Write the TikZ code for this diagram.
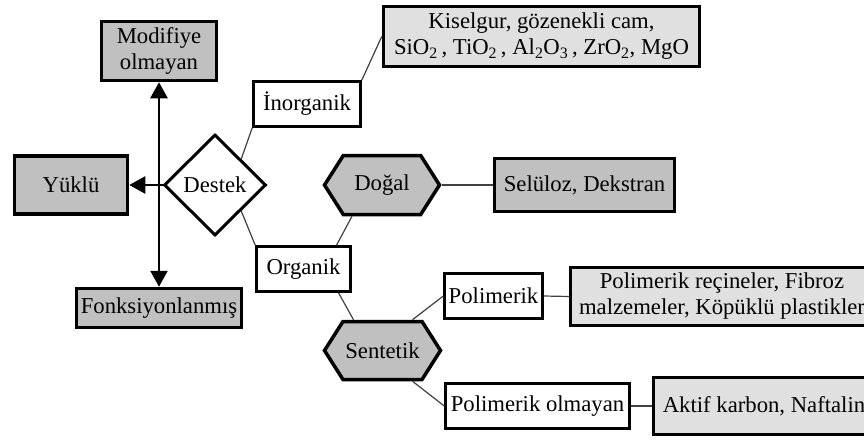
\documentclass[tikz,border=0pt]{standalone}
\usepackage{fontspec}
\setmainfont{Liberation Serif}
\usetikzlibrary{shapes.geometric,shapes.symbols,arrows.meta}
\definecolor{dgray}{HTML}{C0C0C0}
\definecolor{lgray}{HTML}{E0E0E0}
\definecolor{conn}{HTML}{404040}
\begin{document}
\begin{tikzpicture}[x=1pt,y=-1pt,
  every node/.style={font=\fontsize{22.7}{26}\selectfont, inner sep=0pt, align=center, text=black},
  gbox/.style={draw=black, line width=3.5pt, fill=dgray, rectangle},
  lbox/.style={draw=black, line width=3.5pt, fill=lgray, rectangle},
  wbox/.style={draw=black, line width=2.5pt, fill=white, rectangle},
  hexa/.style={draw=black, line width=3.5pt, fill=dgray, shape=signal, signal to=east and west, signal pointer angle=115},
  dia/.style={draw=black, line width=3pt, fill=white, shape=diamond, aspect=1},
  thinl/.style={draw=conn, line width=1.2pt},
  arr/.style={draw=black, line width=2.6pt, -{Triangle[length=16pt,width=17pt]}}
]
\path[use as bounding box] (0,0) rectangle (864,439);
\node[gbox, minimum width=115pt, minimum height=59pt] (mod) at (159,51) {Modifiye\\olmayan};
\node[gbox, minimum width=113pt, minimum height=58pt] (yuk) at (71,185) {Yüklü};
\node[gbox, minimum width=165pt, minimum height=39pt] (fon) at (159,308) {Fonksiyonlanmış};
\node[dia, minimum width=102pt, minimum height=101pt] (des) at (215,185) {Destek};
\node[wbox, minimum width=107pt, minimum height=45pt] (ino) at (307,104) {İnorganik};
\node[lbox, minimum width=316pt, minimum height=60pt] (kis) at (541.5,36.5) {Kiselgur, gözenekli cam,\\SiO\textsubscript{2}\,, TiO\textsubscript{2}\,, Al\textsubscript{2}O\textsubscript{3}\,, ZrO\textsubscript{2}, MgO};
\node[hexa, minimum width=115pt, minimum height=59pt] (dog) at (382,185) {Doğal};
\node[gbox, minimum width=180pt, minimum height=53pt] (sel) at (584.5,185) {Selüloz, Dekstran};
\node[wbox, minimum width=94pt, minimum height=45pt] (org) at (303.5,269) {Organik};
\node[hexa, minimum width=116pt, minimum height=58pt] (sen) at (382.5,350.5) {Sentetik};
\node[wbox, minimum width=98pt, minimum height=45pt] (pol) at (493.5,296) {Polimerik};
\node[lbox, minimum width=303pt, minimum height=58pt] (pre) at (722,296.5) {Polimerik reçineler, Fibroz\\malzemeler, Köpüklü plastikler};
\node[wbox, minimum width=184pt, minimum height=45pt] (pom) at (537.5,406) {Polimerik olmayan};
\node[lbox, minimum width=221pt, minimum height=57pt] (akt) at (764,406) {Aktif karbon, Naftalin};

\draw[thinl] (des.north east) -- (ino.south west);
\draw[thinl] (ino.north east) -- (kis.west);
\draw[thinl] (des.south east) -- (org.north west);
\draw[thinl] ([xshift=33pt]org.north) -- ([xshift=-30pt]dog.south);
\draw[thinl] ([xshift=35pt]org.south) -- ([xshift=-29pt]sen.north);
\draw[thinl] ([xshift=30pt]sen.north) -- (pol.west);
\draw[thinl] ([xshift=30pt]sen.south) -- (pom.west);
\draw[thinl] (dog.east) -- (sel.west);
\draw[thinl] (pol.east) -- (pre.west);
\draw[thinl] (pom.east) -- (akt.west);

\draw[arr, {Triangle[length=16pt,width=17pt]}-{Triangle[length=16pt,width=17pt]}] (mod.south) -- (fon.north);
\draw[arr] (des.west) -- (yuk.east);
\end{tikzpicture}
\end{document}
